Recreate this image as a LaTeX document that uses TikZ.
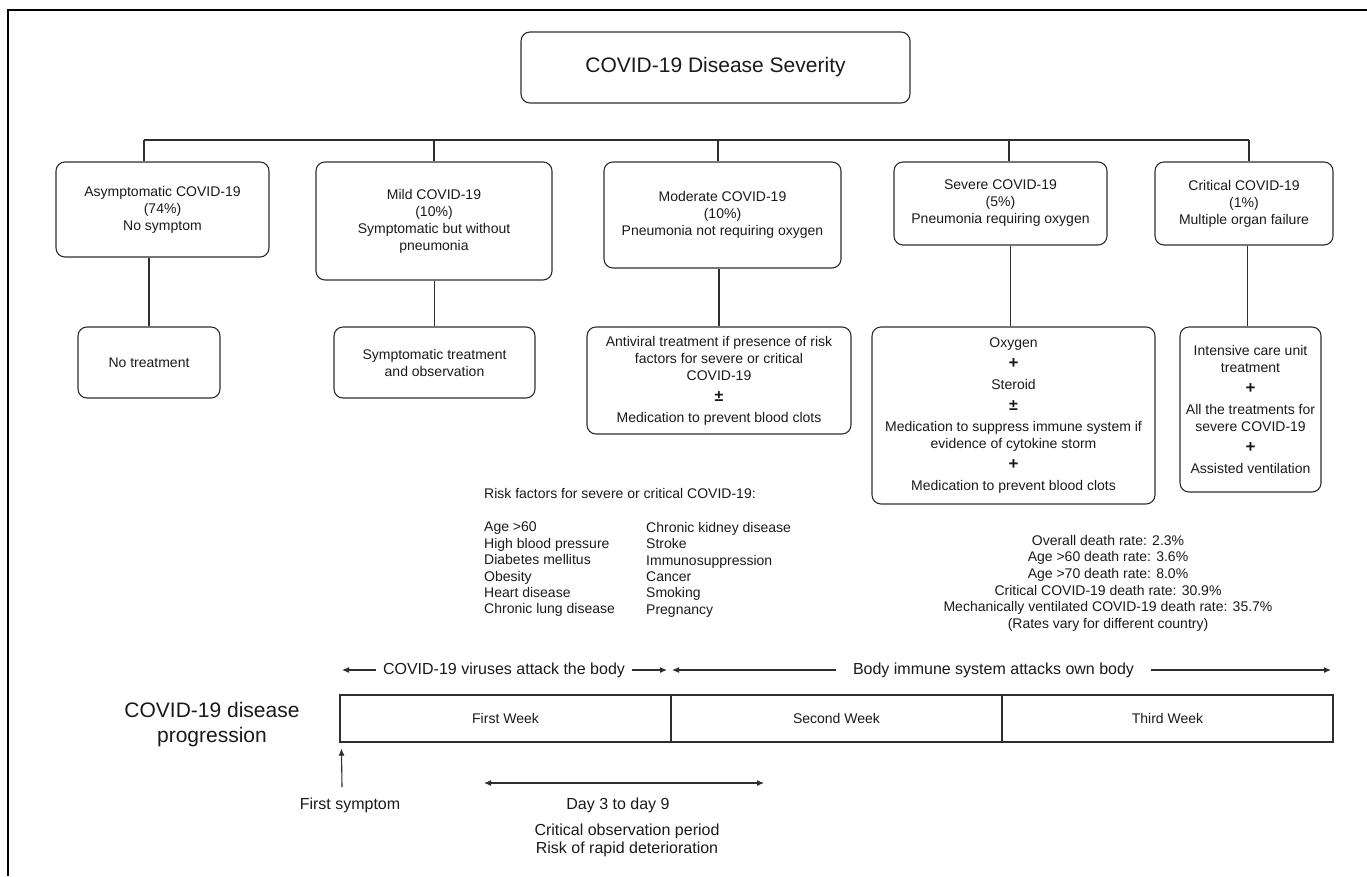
\documentclass[tikz,border=0pt]{standalone}
\usepackage{fontspec}
\setmainfont{Liberation Sans}
\usetikzlibrary{arrows.meta}
\definecolor{linec}{HTML}{2E2E2E}
\definecolor{txt}{HTML}{1A1A1A}
\newcommand\bxf{\fontsize{14}{17}\selectfont}
\newcommand\gp{\\[4pt]}
\newcommand\plsym{{\fontsize{17}{17}\selectfont\bfseries +}}
\newcommand\pmsym{{\fontsize{16}{17}\selectfont\bfseries ±}}
\begin{document}
\begin{tikzpicture}[x=1pt,y=-1pt,
  box/.style={draw=linec, rounded corners=9pt, line width=1.1pt, align=center, inner sep=0pt, font=\bxf, text=txt},
  cell/.style={draw=linec, line width=1.1pt, inner sep=0pt, minimum width=331, minimum height=47, font=\bxf, text=txt},
  conn/.style={draw=linec, line width=1.1pt},
  arr/.style={draw=linec, line width=1.1pt, -{Latex[length=7pt,width=6pt]}},
  plain/.style={inner sep=0pt, text=txt}]
\useasboundingbox (0,0) rectangle (1367,876);
% frame
\coordinate (fa) at (1367,10);
\coordinate (fb) at (8,10);
\coordinate (fc) at (8,876);
\draw[line width=2.5pt, black] (fa) -- (fb) -- (fc);

% title
\node[box, minimum width=389, minimum height=71, font=\fontsize{21}{25}\selectfont] (title) at (715.5,67.5) {COVID-19 Disease Severity};

% severity boxes
\node[box, minimum width=213, minimum height=95] (asym) at (162.5,209.5) {Asymptomatic COVID-19\\(74\%)\\No symptom};
\node[box, minimum width=236, minimum height=118] (mild) at (434,221) {Mild COVID-19\\(10\%)\\Symptomatic but without\\pneumonia};
\node[box, minimum width=237, minimum height=106] (mod) at (722.5,215) {Moderate COVID-19\\(10\%)\\Pneumonia not requiring oxygen};
\node[box, minimum width=213, minimum height=83] (sev) at (1000.5,203.5) {Severe COVID-19\\(5\%)\\Pneumonia requiring oxygen};
\node[box, minimum width=178, minimum height=83] (crit) at (1244,203.5) {Critical COVID-19\\(1\%)\\Multiple organ failure};

% bar
\coordinate (j1) at (144,140);
\coordinate (j2) at (434,140);
\coordinate (j3) at (718,140);
\coordinate (j4) at (1009,140);
\coordinate (j5) at (1249,140);
\draw[conn] (j1) -- (j5);
\draw[conn] (j1) -- (j1 |- asym.north);
\draw[conn] (j2) -- (j2 |- mild.north);
\draw[conn] (j3) -- (j3 |- mod.north);
\draw[conn] (j4) -- (j4 |- sev.north);
\draw[conn] (j5) -- (j5 |- crit.north);

% treatment boxes
\node[box, minimum width=142, minimum height=71] (nt) at (149,362.5) {No treatment};
\node[box, minimum width=201, minimum height=71] (st) at (434.5,362.5) {Symptomatic treatment\\and observation};
\node[box, minimum width=264, minimum height=107] (mt) at (719,380.5) {Antiviral treatment if presence of risk\\factors for severe or critical\\COVID-19\gp \pmsym\gp Medication to prevent blood clots};
\node[box, minimum width=283, minimum height=177] (svt) at (1013.5,415.5) {Oxygen\gp \plsym\gp Steroid\gp \pmsym\gp Medication to suppress immune system if\\evidence of cytokine storm\gp \plsym\gp Medication to prevent blood clots};
\node[box, minimum width=141, minimum height=165] (ct) at (1250.5,409.5) {Intensive care unit\\treatment\gp \plsym\gp All the treatments for\\severe COVID-19\gp \plsym\gp Assisted ventilation};

\draw[conn] (nt.north |- asym.south) -- (nt.north);
\draw[conn] (st.north |- mild.south) -- (st.north);
\draw[conn] (mt.north |- mod.south) -- (mt.north);
\draw[conn] ([xshift=-3pt]svt.north |- sev.south) -- ([xshift=-3pt]svt.north);
\draw[conn] ([xshift=-3pt]ct.north |- crit.south) -- ([xshift=-3pt]ct.north);

% risk factors
\node[plain, anchor=base west, font=\fontsize{14}{16.4}\selectfont] (rf) at (484,498) {Risk factors for severe or critical COVID-19:};
\node[plain, anchor=north west, align=left, font=\fontsize{14}{16.4}\selectfont] (rc1) at (484,522) {Age >60\\High blood pressure\\Diabetes mellitus\\Obesity\\Heart disease\\Chronic lung disease};
\node[plain, anchor=north west, align=left, font=\fontsize{14}{16.4}\selectfont] (rc2) at (646,522) {Chronic kidney disease\\Stroke\\Immunosuppression\\Cancer\\Smoking\\Pregnancy};

% death rates
\node[plain, anchor=north, align=center, font=\fontsize{14}{16.6}\selectfont] (dr) at (1108,535) {Overall death rate: 2.3\%\\Age >60 death rate: 3.6\%\\Age >70 death rate: 8.0\%\\Critical COVID-19 death rate: 30.9\%\\Mechanically ventilated COVID-19 death rate: 35.7\%\\(Rates vary for different country)};

% progression arrows
\node[plain, inner xsep=7pt, font=\fontsize{16}{19}\selectfont] (vir) at (504,670) {COVID-19 viruses attack the body};
\coordinate (va) at (342,670);
\coordinate (vb) at (667,670);
\draw[arr] (vir.west) -- (va);
\draw[arr] (vir.east) -- (vb);
\node[plain, inner xsep=17pt, font=\fontsize{16}{19}\selectfont] (imm) at (993.5,670) {Body immune system attacks own body};
\coordinate (ia) at (672,670);
\coordinate (ib) at (1331,670);
\draw[arr] (imm.west) -- (ia);
\draw[arr] (imm.east) -- (ib);

% timeline
\node[plain, align=center, font=\fontsize{21}{25}\selectfont] (prog) at (212,724.5) {COVID-19 disease\\progression};
\node[cell] (w1) at (505.5,718.5) {First Week};
\node[cell] (w2) at (836.5,718.5) {Second Week};
\node[cell] (w3) at (1167.5,718.5) {Third Week};

% first symptom
\node[plain, font=\fontsize{16}{19}\selectfont] (fs) at (350,805) {First symptom};
\coordinate (fsb) at (342,787);
\draw[arr] (fsb) -- ([xshift=2pt,yshift=-6pt]w1.south west);

% day 3 to day 9
\coordinate (da) at (484,783);
\coordinate (db) at (764,783);
\draw[draw=linec, line width=1.1pt, {Latex[length=7pt,width=6pt]}-{Latex[length=7pt,width=6pt]}] (da) -- (db);
\node[plain, font=\fontsize{16}{19}\selectfont] (day) at (618,805) {Day 3 to day 9};
\node[plain, align=center, font=\fontsize{16}{18}\selectfont] (cop) at (627,840) {Critical observation period\\Risk of rapid deterioration};
\end{tikzpicture}
\end{document}
